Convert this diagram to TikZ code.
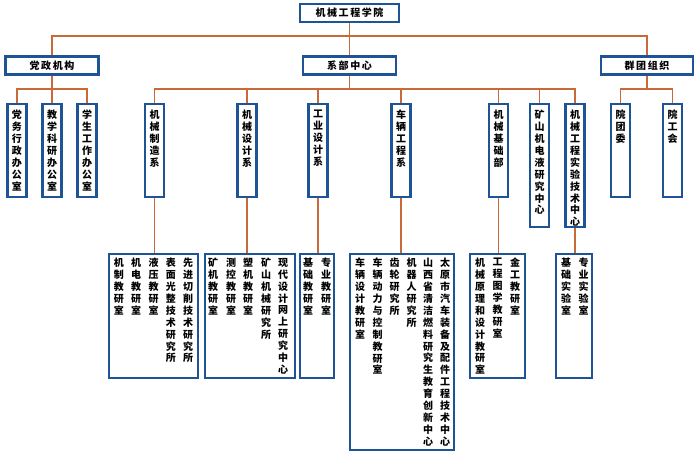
\documentclass[tikz,border=0pt]{standalone}
\usepackage{fontspec}
\setmainfont{Noto Sans CJK SC}
\newfontfamily\hfont{Noto Sans CJK SC}[LetterSpace=16]
\definecolor{boxblue}{HTML}{1E5496}
\definecolor{linecol}{HTML}{C8693A}
\makeatletter
\def\vt@aux#1{\ifx#1\relax\else\hbox to 10pt{\hss#1\hss}\expandafter\vt@aux\fi}
\newcommand\vt[1]{\vbox{\baselineskip=11.9pt\lineskiplimit=-20pt\lineskip=0pt\vt@aux#1\relax}}
\makeatother
\tikzset{
  bx/.style={draw=boxblue, line width=2.2pt, fill=white, inner sep=0pt, rectangle},
  hbx/.style={bx, minimum height=18pt, font=\hfont\bfseries\fontsize{10}{12}\selectfont},
  vbx/.style={bx, minimum width=19pt},
  vtxt/.style={inner sep=0pt, anchor=north, font=\bfseries\fontsize{10}{12}\selectfont},
  conn/.style={draw=linecol, line width=1.4pt},
}
\begin{document}
\begin{tikzpicture}[x=1pt,y=-1pt]
\useasboundingbox (0,0) rectangle (700,453);
\fill[white] (0,0) rectangle (700,453);
\coordinate (b1) at (349.5,36);
\coordinate (b2) at (52,89);
\coordinate (b3) at (349.5,89);
\coordinate (b4) at (647,89);
% top
\node[hbx, minimum width=99pt] (top) at (349.5,13) {机械工程学院};
\node[hbx, minimum width=93pt] (dz) at (52,65.5) {党政机构};
\node[hbx, minimum width=93pt] (xb) at (349.5,65.5) {系部中心};
\node[hbx, minimum width=92pt] (qt) at (647,65.5) {群团组织};
% row 3 boxes
\node[vbx, minimum height=93pt] (c1) at (17,150.5) {};
\node[vbx, minimum height=93pt] (c2) at (52,150.5) {};
\node[vbx, minimum height=93pt] (c3) at (87,150.5) {};
\node[vbx, minimum height=93pt] (d1) at (154.5,150.5) {};
\node[vbx, minimum height=93pt] (d2) at (247,150.5) {};
\node[vbx, minimum height=93pt] (d3) at (318,150.5) {};
\node[vbx, minimum height=93pt] (d4) at (401,150.5) {};
\node[vbx, minimum height=93pt] (d5) at (498.5,150.5) {};
\node[vbx, minimum height=123pt] (d6) at (539.5,165.5) {};
\node[vbx, minimum height=123pt] (d7) at (575,165.5) {};
\node[vbx, minimum height=93pt] (g1) at (620.5,150.5) {};
\node[vbx, minimum height=93pt] (g2) at (672.5,150.5) {};
% bottom boxes
\node[bx, minimum width=89pt, minimum height=124pt] (e1) at (153.5,316) {};
\node[bx, minimum width=90pt, minimum height=124pt] (e2) at (250,316) {};
\node[bx, minimum width=34pt, minimum height=124pt] (e3) at (317,316) {};
\node[bx, minimum width=104pt, minimum height=196pt] (e4) at (402,352) {};
\node[bx, minimum width=55pt, minimum height=124pt] (e5) at (497.5,316) {};
\node[bx, minimum width=36pt, minimum height=124pt] (e6) at (574,316) {};
% connectors
\draw[conn] (top.south) -- (b1);
\draw[conn] (dz.north) |- (b1) -| (qt.north);
\draw[conn] (b1) -- (xb.north);
\draw[conn] (dz.south) -- (b2);
\draw[conn] (c1.north) |- (b2) -| (c3.north);
\draw[conn] (b2) -- (c2.north);
\draw[conn] (xb.south) -- (b3);
\draw[conn] (d1.north) |- (b3) -| (d7.north);
\draw[conn] (d2.north) -- (d2.north |- b3);
\draw[conn] (d3.north) -- (d3.north |- b3);
\draw[conn] (d4.north) -- (d4.north |- b3);
\draw[conn] (d5.north) -- (d5.north |- b3);
\draw[conn] (d6.north) -- (d6.north |- b3);
\draw[conn] (qt.south) -- (b4);
\draw[conn] (g1.north) |- (b4) -| (g2.north);
\draw[conn] (d1.south) -- (d1.south |- e1.north);
\draw[conn] (d2.south) -- (d2.south |- e2.north);
\draw[conn] (d3.south) -- (d3.south |- e3.north);
\draw[conn] (d4.south) -- (d4.south |- e4.north);
\draw[conn] (d5.south) -- (d5.south |- e5.north);
\draw[conn] (d7.south) -- (d7.south |- e6.north);
% row 3 texts
\node[vtxt] (c1t) at (17,110) {\vt{党务行政办公室}};
\node[vtxt] (c2t) at (52,110) {\vt{教学科研办公室}};
\node[vtxt] (c3t) at (87,110) {\vt{学生工作办公室}};
\node[vtxt] (d1t) at (154.5,110) {\vt{机械制造系}};
\node[vtxt] (d2t) at (247,110) {\vt{机械设计系}};
\node[vtxt] (d3t) at (318,110) {\vt{工业设计系}};
\node[vtxt] (d4t) at (401,110) {\vt{车辆工程系}};
\node[vtxt] (d5t) at (498.5,110) {\vt{机械基础部}};
\node[vtxt] (d6t) at (539.5,110) {\vt{矿山机电液研究中心}};
\node[vtxt] (d7t) at (575,110) {\vt{机械工程实验技术中心}};
\node[vtxt] (g1t) at (620.5,110) {\vt{院团委}};
\node[vtxt] (g2t) at (672.5,110) {\vt{院工会}};
% bottom texts
\node[vtxt] (e1a) at (118.9,258) {\vt{机制教研室}};
\node[vtxt] (e1b) at (136.2,258) {\vt{机电教研室}};
\node[vtxt] (e1c) at (153.5,258) {\vt{液压教研室}};
\node[vtxt] (e1d) at (170.8,258) {\vt{表面光整技术研究所}};
\node[vtxt] (e1e) at (188.1,258) {\vt{先进切削技术研究所}};
\node[vtxt] (e2a) at (213,258) {\vt{矿机教研室}};
\node[vtxt] (e2b) at (231,258) {\vt{测控教研室}};
\node[vtxt] (e2c) at (248,258) {\vt{塑机教研室}};
\node[vtxt] (e2d) at (266,258) {\vt{矿山机械研究所}};
\node[vtxt] (e2e) at (283,258) {\vt{现代设计网上研究中心}};
\node[vtxt] (e3a) at (308,258) {\vt{基础教研室}};
\node[vtxt] (e3b) at (326,258) {\vt{专业教研室}};
\node[vtxt] (e4a) at (360,258) {\vt{车辆设计教研室}};
\node[vtxt] (e4b) at (377.5,258) {\vt{车辆动力与控制教研室}};
\node[vtxt] (e4c) at (394.5,258) {\vt{齿轮研究所}};
\node[vtxt] (e4d) at (411.5,258) {\vt{机器人研究所}};
\node[vtxt] (e4e) at (428,258) {\vt{山西省清洁燃料研究生教育创新中心}};
\node[vtxt] (e4f) at (445,258) {\vt{太原市汽车装备及配件工程技术中心}};
\node[vtxt] (e5a) at (480,258) {\vt{机械原理和设计教研室}};
\node[vtxt] (e5b) at (497.5,258) {\vt{工程图学教研室}};
\node[vtxt] (e5c) at (515,258) {\vt{金工教研室}};
\node[vtxt] (e6a) at (566,258) {\vt{基础实验室}};
\node[vtxt] (e6b) at (583.5,258) {\vt{专业实验室}};
\end{tikzpicture}
\end{document}
